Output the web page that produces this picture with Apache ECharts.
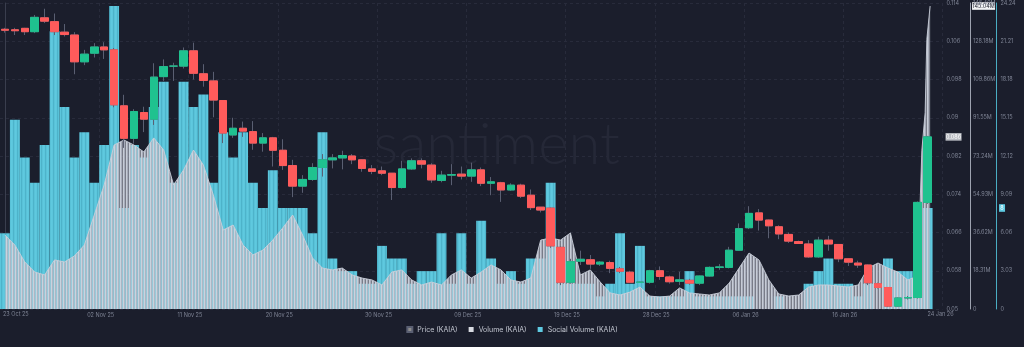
<!DOCTYPE html>
<html>
<head>
<meta charset="utf-8">
<script src="https://cdn.jsdelivr.net/npm/echarts@6/dist/echarts.min.js"></script>
<style>
  html, body { margin: 0; padding: 0; background: #1b1e2c; }
  #chart { width: 1024px; height: 347px; }
</style>
</head>
<body>
<div id="chart"></div>
<script>
// Daily categories: 23 Oct 2025 .. 25 Jan 2026
const firstDay = Date.UTC(2025, 9, 23);
const dayCount = 95;
const monthNames = ['Jan','Feb','Mar','Apr','May','Jun','Jul','Aug','Sep','Oct','Nov','Dec'];
function dayLabel(ts) {
  const d = new Date(ts);
  const dd = String(d.getUTCDate()).padStart(2, '0');
  const yy = String(d.getUTCFullYear()).slice(2);
  return dd + ' ' + monthNames[d.getUTCMonth()] + ' ' + yy;
}
const categories = [];
for (let i = 0; i < dayCount; i++) categories.push(dayLabel(firstDay + i * 86400000));

const dateTicks = ['02 Nov 25','11 Nov 25','20 Nov 25','30 Nov 25','09 Dec 25','19 Dec 25','28 Dec 25','06 Jan 26','16 Jan 26'];
const firstDateLabel = '23 Oct 25';
const lastDateLabel = '24 Jan 26';

// Price (KAIA), daily OHLC
const priceOpen = [
  0.1085,0.1084,0.1087,0.1080,0.1109,0.1101,0.1079,0.1073,0.1017,0.1035,
  0.1048,0.1042,0.0925,0.0857,0.0911,0.0897,0.0986,0.1008,0.1008,0.1040,
  0.0992,0.0977,0.0936,0.0864,0.0878,0.0871,0.0847,0.0858,0.0832,0.0800,
  0.0757,0.0771,0.0796,0.0812,0.0816,0.0820,0.0812,0.0793,0.0789,0.0784,
  0.0754,0.0793,0.0810,0.0801,0.0769,0.0780,0.0782,0.0778,0.0791,0.0763,
  0.0764,0.0749,0.0759,0.0738,0.0713,0.0711,0.0629,0.0556,0.0600,0.0603,
  0.0594,0.0597,0.0584,0.0577,0.0556,0.0556,0.0580,0.0567,0.0558,0.0560,
  0.0554,0.0569,0.0587,0.0587,0.0623,0.0670,0.0701,0.0686,0.0672,0.0656,
  0.0641,0.0636,0.0609,0.0644,0.0635,0.0605,0.0596,0.0592,0.0553,0.0545,
  0.0506,0.0523,0.0524,0.0723,'-'
];
const priceClose = [
  0.1083,0.1082,0.1080,0.1110,0.1102,0.1080,0.1074,0.1017,0.1033,0.1048,
  0.1042,0.0927,0.0857,0.0913,0.0897,0.0985,0.1007,0.1008,0.1040,0.0993,
  0.0978,0.0937,0.0868,0.0878,0.0872,0.0847,0.0858,0.0832,0.0800,0.0757,
  0.0771,0.0796,0.0812,0.0816,0.0821,0.0812,0.0794,0.0788,0.0784,0.0754,
  0.0793,0.0810,0.0803,0.0770,0.0780,0.0781,0.0778,0.0791,0.0763,0.0766,
  0.0749,0.0759,0.0736,0.0712,0.0707,0.0632,0.0556,0.0599,0.0604,0.0594,
  0.0598,0.0585,0.0579,0.0556,0.0556,0.0580,0.0568,0.0557,0.0561,0.0554,
  0.0569,0.0587,0.0588,0.0623,0.0668,0.0700,0.0686,0.0674,0.0657,0.0642,
  0.0637,0.0609,0.0644,0.0636,0.0605,0.0598,0.0592,0.0555,0.0545,0.0506,
  0.0523,0.0524,0.0723,0.0860,'-'
];
const priceLow = [
  0.1078,0.1073,0.1073,0.1077,0.1098,0.1073,0.1070,0.0991,0.1010,0.1026,
  0.1023,0.0922,0.0837,0.0846,0.0870,0.0885,0.0977,0.0977,0.1003,0.0980,
  0.0965,0.0901,0.0847,0.0858,0.0860,0.0833,0.0829,0.0798,0.0791,0.0734,
  0.0743,0.0768,0.0777,0.0794,0.0792,0.0803,0.0787,0.0782,0.0780,0.0728,
  0.0752,0.0791,0.0794,0.0764,0.0765,0.0759,0.0771,0.0766,0.0757,0.0738,
  0.0724,0.0747,0.0732,0.0707,0.0702,0.0628,0.0550,0.0553,0.0592,0.0584,
  0.0590,0.0575,0.0575,0.0555,0.0555,0.0553,0.0561,0.0553,0.0550,0.0551,
  0.0550,0.0568,0.0582,0.0585,0.0622,0.0667,0.0664,0.0648,0.0646,0.0638,
  0.0636,0.0607,0.0607,0.0622,0.0598,0.0590,0.0586,0.0550,0.0543,0.0504,
  0.0505,0.0520,0.0522,0.0720,'-'
];
const priceHigh = [
  0.1088,0.1088,0.1088,0.1115,0.1128,0.1118,0.1096,0.1079,0.1042,0.1056,
  0.1058,0.1046,0.0948,0.0918,0.0923,0.1014,0.1022,0.1015,0.1047,0.1057,
  0.1012,0.0996,0.0937,0.0900,0.0892,0.0893,0.0868,0.0860,0.0855,0.0812,
  0.0780,0.0805,0.0824,0.0824,0.0831,0.0824,0.0813,0.0801,0.0798,0.0784,
  0.0810,0.0815,0.0815,0.0805,0.0789,0.0803,0.0798,0.0806,0.0796,0.0776,
  0.0766,0.0763,0.0762,0.0750,0.0713,0.0712,0.0631,0.0605,0.0622,0.0613,
  0.0600,0.0601,0.0588,0.0580,0.0557,0.0582,0.0589,0.0570,0.0578,0.0563,
  0.0570,0.0589,0.0594,0.0630,0.0679,0.0715,0.0709,0.0687,0.0675,0.0660,
  0.0643,0.0644,0.0651,0.0653,0.0636,0.0606,0.0601,0.0593,0.0555,0.0546,
  0.0524,0.0527,0.0725,0.0862,'-'
];

// Volume (KAIA), millions; sample times in days after 23 Oct 12:00
const volumeDays = [
  0,1,2,3,4,5,6,7,8,9,
  10,11,12,13,14,15,16,17,18,19,
  20,21,22,23,24,25,26,27,28,29,
  30,31,32,33,34,35,36,37,38,39,
  40,41,42,43,44,45,46,47,48,49,
  50,51,52,53,54,55,56,57,58,59,
  60,61,62,63,64,65,66,67,68,69,
  70,71,72,73,74,75,76,77,78,79,
  80,81,82,83,84,85,86,87,88,89,
  90,91,91.75,92.1,92.42,92.75,92.92,93.25
];
const volumeValues = [
  35.4,30.6,22.5,17.7,16.3,23.5,22.5,25.4,30.6,45.0,
  59.4,78.5,80.9,78.5,75.2,81.9,76.1,59.4,66.5,76.1,
  68.9,54.6,37.8,40.2,30.6,25.9,28.2,33.0,38.8,45.0,
  35.4,24.4,19.6,18.7,19.6,16.3,14.8,13.9,11.5,17.7,
  18.7,13.9,11.5,12.9,11.5,16.3,18.7,14.8,17.7,21.1,
  18.7,13.9,12.9,14.8,33.0,34.0,33.0,36.4,16.3,18.7,
  12.9,7.7,6.7,8.1,10.5,6.2,5.7,6.2,10.1,7.7,
  7.2,6.7,7.7,12.4,19.6,26.8,23.5,13.9,7.2,6.2,
  6.7,10.5,11.5,11.5,11.0,10.5,11.5,19.6,22.0,19.6,
  17.7,13.9,15.3,30.0,76.0,94.0,129.0,145.04
];

// Social Volume (KAIA), daily mentions
const socialVolume = [
  6,15,12,10,13,22,16,12,14,10,
  13,24,8,13,12,16,18,10,18,16,
  17,10,14,12,14,10,8,11,8,8,
  8,6,14,4,3,3,2,2,5,4,
  4,2,3,3,6,2,6,2,7,4,
  2,3,2,4,4,10,2,2,2,2,
  1,2,6,2,5,1,1,1,1,3,
  1,1,1,1,1,1,0,0,1,0,
  0,2,3,4,2,2,1,2,0,4,
  3,3,1,8,'-'
];

// Axis scales
const priceAxis = { min: 0.05, max: 0.114, step: 0.008 };
const volumeAxis = { min: 0, max: 146.486, step: 18.31075 };
const socialAxis = { min: 0, max: 24.24, step: 3.03 };

const lastPrice = 0.086;
const lastVolume = 145.04;
const lastSocial = 8;

const COLORS = {
  bg: '#1b1e2c',
  up: '#1fc28f',
  down: '#ff5b5b',
  wick: '#5a5f72',
  grid: '#282b3b',
  label: '#7f8495',
  priceAxis: '#3a3e4e',
  volumeAxis: '#9ea3b0',
  socialAxis: '#4aaec4'
};

const FONT = 'Inter, Roboto, sans-serif';

// Fine vertical hatching, like densely packed hourly columns
function stripes(cols) {
  const c = document.createElement('canvas');
  c.width = cols.length;
  c.height = 4;
  const g = c.getContext('2d');
  cols.forEach((col, k) => { g.fillStyle = col; g.fillRect(k, 0, 1, 4); });
  return { image: c, repeat: 'repeat' };
}
const volumeFill = stripes(['rgba(206,211,222,0.96)', 'rgba(176,182,196,0.94)', 'rgba(198,203,214,0.55)']);
const socialFill = stripes(['#5cc6dc', '#4db3ca', '#59c2d8', '#5fc9df']);

const wickData = priceOpen.map((o, i) => o === '-' ? '-' : [o, priceClose[i], priceLow[i], priceHigh[i]]);
const bodyData = priceOpen.map((o, i) => o === '-' ? '-' :
  [o, priceClose[i], Math.min(o, priceClose[i]), Math.max(o, priceClose[i])]);
const volumeData = volumeDays.map((d, i) => [d, volumeValues[i]]);

const isDateTick = (idx) => dateTicks.indexOf(categories[idx]) >= 0;

const chart = echarts.init(document.getElementById('chart'), null, { renderer: 'canvas' });

chart.setOption({
  backgroundColor: COLORS.bg,
  animation: false,
  legend: {
    bottom: 9,
    left: 'center',
    itemWidth: 5,
    itemHeight: 5,
    itemGap: 11,
    icon: 'rect',
    textStyle: { color: '#c3c7d1', fontSize: 7, fontFamily: FONT },
    data: [
      { name: 'Price (KAIA)', itemStyle: { color: '#8e8e8e' } },
      { name: 'Volume (KAIA)', itemStyle: { color: '#d8dbe2' } },
      { name: 'Social Volume (KAIA)', itemStyle: { color: '#5fcbe3' } }
    ]
  },
  grid: { left: -7.5, right: 81.5, top: 3, bottom: 38, containLabel: false },
  xAxis: [
    {
      type: 'category',
      data: categories,
      boundaryGap: true,
      axisLine: { show: false },
      axisTick: { show: false },
      axisLabel: {
        interval: (idx) => isDateTick(idx),
        color: COLORS.label, fontSize: 5.5, fontFamily: FONT, margin: 3,
        padding: [0, 7, 0, 0]
      },
      splitLine: {
        show: true,
        interval: (idx) => isDateTick(idx),
        lineStyle: { color: COLORS.grid, type: [3, 3], width: 1 }
      }
    },
    {
      // continuous day scale sharing the same band layout, for the volume samples
      type: 'value',
      min: -0.5, max: dayCount - 0.5,
      show: false
    }
  ],
  yAxis: [
    {
      type: 'value', position: 'right', offset: 0,
      min: priceAxis.min, max: priceAxis.max, interval: priceAxis.step,
      axisLine: { show: true, lineStyle: { color: COLORS.priceAxis } },
      axisTick: { show: false },
      axisLabel: {
        color: COLORS.label, fontSize: 5.5, fontFamily: FONT, margin: 4,
        formatter: (v) => String(+v.toFixed(3))
      },
      splitLine: { show: true, lineStyle: { color: COLORS.grid, type: [3, 3] } }
    },
    {
      type: 'value', position: 'right', offset: 27.5,
      min: volumeAxis.min, max: volumeAxis.max, interval: volumeAxis.step,
      axisLine: { show: true, lineStyle: { color: COLORS.volumeAxis } },
      axisTick: { show: false },
      axisLabel: {
        color: COLORS.label, fontSize: 5.5, fontFamily: FONT, margin: 3,
        formatter: (v) => v === 0 ? '0' : v.toFixed(2) + 'M'
      },
      splitLine: { show: false }
    },
    {
      type: 'value', position: 'right', offset: 54,
      min: socialAxis.min, max: socialAxis.max, interval: socialAxis.step,
      axisLine: { show: true, lineStyle: { color: COLORS.socialAxis } },
      axisTick: { show: false },
      axisLabel: {
        color: COLORS.label, fontSize: 5.5, fontFamily: FONT, margin: 4,
        formatter: (v) => v === 0 ? '0' : v.toFixed(2)
      },
      splitLine: { show: false }
    }
  ],
  series: [
    {
      name: 'Social Volume (KAIA)',
      type: 'bar',
      xAxisIndex: 0,
      yAxisIndex: 2,
      data: socialVolume,
      barCategoryGap: '0%',
      itemStyle: { color: socialFill },
      z: 1
    },
    {
      name: 'Volume (KAIA)',
      type: 'line',
      xAxisIndex: 1,
      yAxisIndex: 1,
      data: volumeData,
      symbol: 'none',
      itemStyle: { color: '#d8dbe2' },
      lineStyle: { width: 1, color: '#c9ced9', opacity: 0.9 },
      areaStyle: { color: volumeFill, opacity: 1 },
      z: 2
    },
    {
      name: 'Price (KAIA)',
      type: 'candlestick',
      yAxisIndex: 0,
      data: wickData,
      barWidth: 8,
      itemStyle: {
        color: 'rgba(0,0,0,0)', color0: 'rgba(0,0,0,0)',
        borderColor: COLORS.wick, borderColor0: COLORS.wick, borderWidth: 1
      },
      z: 3
    },
    {
      name: 'Price (KAIA)',
      type: 'candlestick',
      yAxisIndex: 0,
      data: bodyData,
      barWidth: 8,
      itemStyle: {
        color: COLORS.up, color0: COLORS.down,
        borderColor: COLORS.up, borderColor0: COLORS.down, borderWidth: 1
      },
      z: 4
    }
  ]
});

// Watermark, edge date labels and last-value tags on the value axes
const gridRight = chart.convertToPixel({ xAxisIndex: 0 }, categories[dayCount - 1]) + 5;
const yPrice = chart.convertToPixel({ yAxisIndex: 0 }, lastPrice);
const yVol = chart.convertToPixel({ yAxisIndex: 1 }, lastVolume);
const ySoc = chart.convertToPixel({ yAxisIndex: 2 }, lastSocial);
const yBase = chart.convertToPixel({ yAxisIndex: 0 }, priceAxis.min);

function tag(x, y, text, bg, fg, w) {
  return {
    type: 'group', x: x, y: y, z: 100,
    children: [
      { type: 'rect', shape: { x: 0, y: -3.8, width: w, height: 7.6 }, style: { fill: bg } },
      { type: 'text', x: w / 2, y: 0, style: { text: text, fill: fg, fontSize: 5.5, fontFamily: FONT, align: 'center', verticalAlign: 'middle' } }
    ]
  };
}

chart.setOption({
  graphic: [
    {
      type: 'text', left: 360, top: 116, z: 0, silent: true,
      style: { text: '.santiment', fill: '#252837', fontSize: 58, fontWeight: 300, fontFamily: 'Lato, sans-serif' }
    },
    {
      type: 'text', x: 3, y: yBase + 5, z: 10,
      style: { text: firstDateLabel, fill: COLORS.label, fontSize: 5.5, fontFamily: FONT, align: 'left', verticalAlign: 'middle' }
    },
    {
      type: 'text', x: gridRight - 2, y: yBase + 5, z: 10,
      style: { text: lastDateLabel, fill: COLORS.label, fontSize: 5.5, fontFamily: FONT, align: 'center', verticalAlign: 'middle' }
    },
    tag(gridRight + 3, yPrice, String(lastPrice), '#b9bcc3', '#ffffff', 16),
    tag(gridRight + 29.5, yVol, lastVolume.toFixed(2) + 'M', '#f2f3f5', '#1b1e2c', 23),
    tag(gridRight + 56.5, ySoc, String(lastSocial), '#5fcbe3', '#ffffff', 6)
  ]
});
</script>
</body>
</html>
